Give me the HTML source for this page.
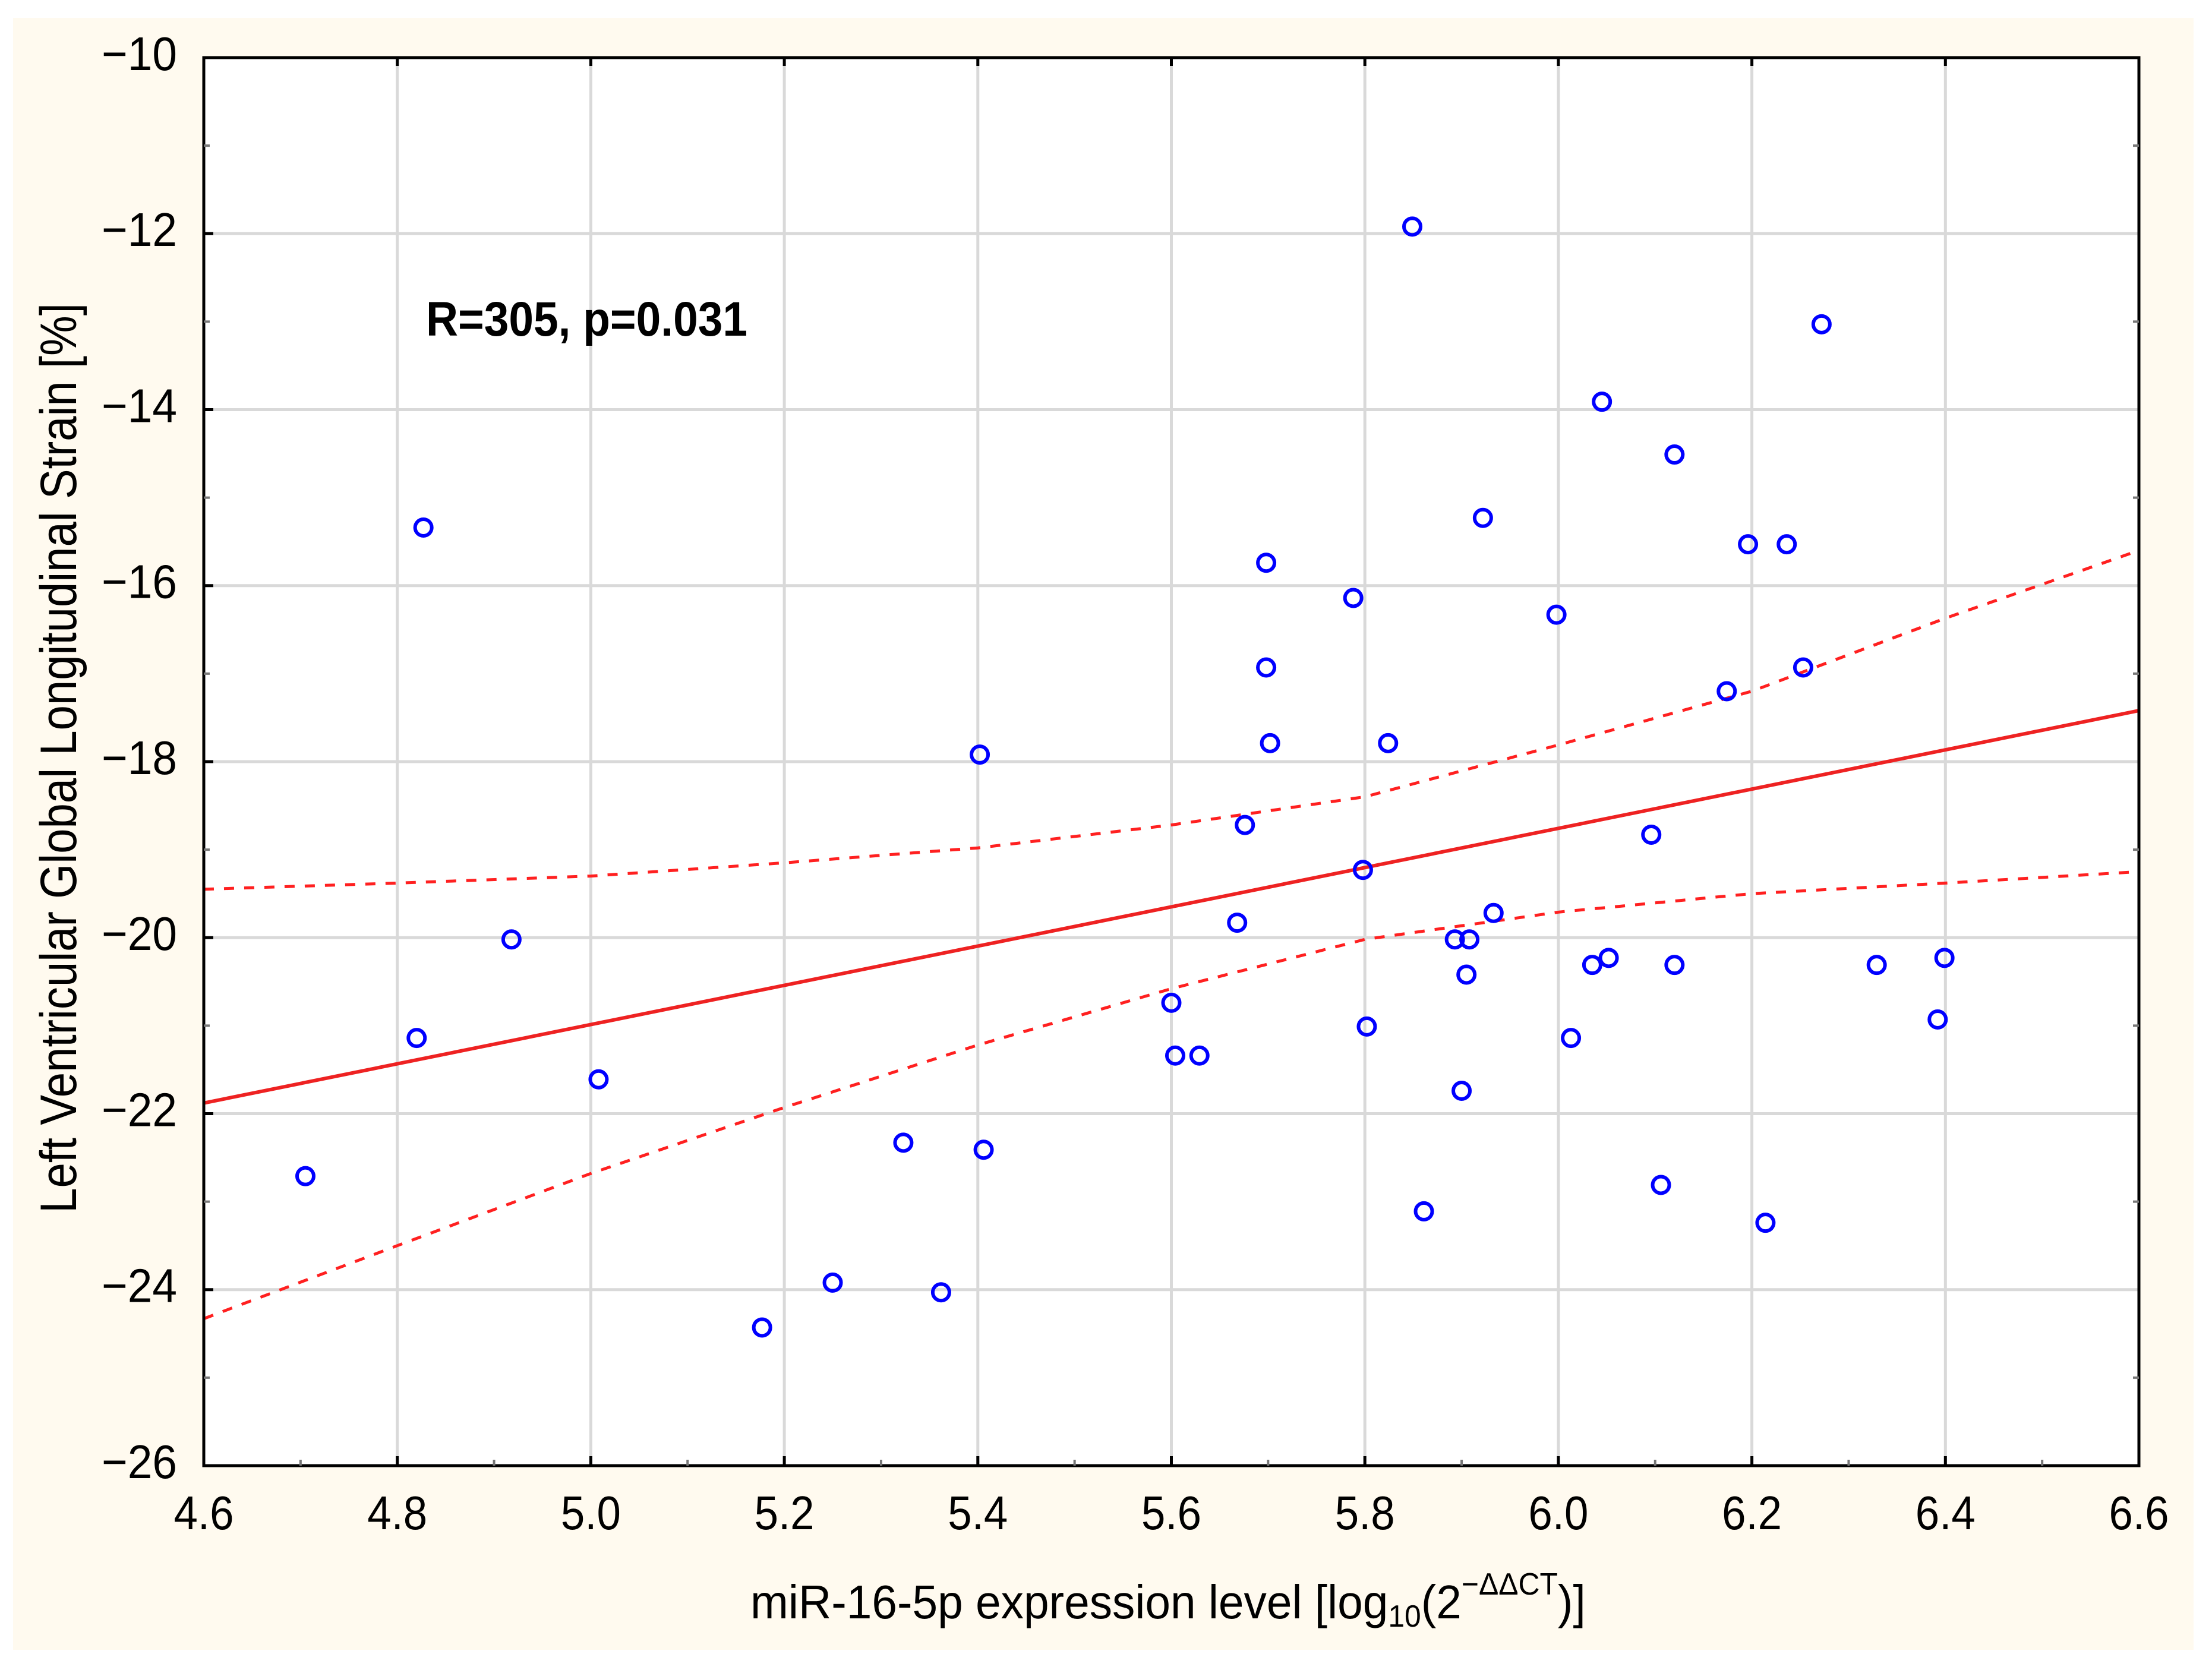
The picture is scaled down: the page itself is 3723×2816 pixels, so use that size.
<!DOCTYPE html>
<html><head><meta charset="utf-8">
<style>
html,body{margin:0;padding:0;background:#fff;}
svg{display:block;}
text{font-family:"Liberation Sans Narrow","Liberation Sans",sans-serif;fill:#000;}
</style></head>
<body>
<svg id="chart" width="3723" height="2816" viewBox="0 0 3723 2816" xmlns="http://www.w3.org/2000/svg">
<rect x="22" y="30" width="3670" height="2747" fill="#fffaef"/>
<rect x="343" y="97" width="3257" height="2370" fill="#ffffff"/>
<g id="grid"></g>
<g id="bands"></g>
<g id="points"></g>
<rect x="343" y="97" width="3257" height="2370" fill="none" stroke="#000" stroke-width="5"/>
<g id="ticks"></g>
<text id="annot" x="717" y="565" font-size="82" font-weight="bold">R=305, p=0.031</text>
<text id="ytitle" font-size="86" font-family="Liberation Sans, sans-serif" transform="translate(128,1276) rotate(-90)" text-anchor="middle">Left Ventricular Global Longitudinal Strain [%]</text>
<text id="xtitle" x="1263" y="2724" font-size="80">miR-16-5p expression level [log<tspan font-size="52" dy="14">10</tspan><tspan dy="-14">(2</tspan><tspan font-size="52" dy="-40">−ΔΔCT</tspan><tspan dy="40">)]</tspan></text>
</svg>
<script>
const xVals=[4.705,4.827,4.820,4.918,5.008,5.177,5.250,5.323,5.362,5.402,5.406,5.600,5.604,5.629,5.668,5.676,5.698,5.698,5.702,5.788,5.798,5.802,5.824,5.849,5.861,5.893,5.908,5.905,5.900,5.922,5.933,5.998,6.013,6.035,6.045,6.052,6.096,6.106,6.120,6.120,6.174,6.196,6.214,6.236,6.253,6.272,6.329,6.392,6.399];
const yVals=[-22.71,-15.34,-21.14,-20.02,-21.61,-24.43,-23.92,-22.33,-24.03,-17.92,-22.41,-20.74,-21.34,-21.34,-19.83,-18.72,-15.74,-16.93,-17.79,-16.14,-19.23,-21.01,-17.79,-11.92,-23.11,-20.02,-20.02,-20.42,-21.74,-15.23,-19.72,-16.33,-21.14,-20.31,-13.91,-20.23,-18.83,-22.81,-14.51,-20.31,-17.20,-15.53,-23.24,-15.53,-16.93,-13.03,-20.31,-20.93,-20.23];
const fitX=[4.6,6.6];
const fitY=[-21.88,-17.42];
const bandX=[4.6,4.8,5.0,5.2,5.4,5.6,5.8,6.0,6.2,6.4,6.6];
const upperY=[-19.45,-19.38,-19.30,-19.15,-18.98,-18.72,-18.40,-17.81,-17.20,-16.37,-15.60];
const lowerY=[-24.33,-23.50,-22.68,-21.93,-21.22,-20.58,-20.02,-19.71,-19.50,-19.38,-19.25];
const xTicks=[4.6,4.8,5.0,5.2,5.4,5.6,5.8,6.0,6.2,6.4,6.6];
const xTickLabels=["4.6","4.8","5.0","5.2","5.4","5.6","5.8","6.0","6.2","6.4","6.6"];
const yTicks=[-10,-12,-14,-16,-18,-20,-22,-24,-26];
const yTickLabels=["−10","−12","−14","−16","−18","−20","−22","−24","−26"];

const L=343,R=3600,T=97,B=2467,X0=4.6,X1=6.6,Y0=-26,Y1=-10;
const sx=v=>L+(v-X0)/(X1-X0)*(R-L);
const sy=v=>B-(v-Y0)/(Y1-Y0)*(B-T);
const NS="http://www.w3.org/2000/svg";
function mk(tag,attrs,parent){const e=document.createElementNS(NS,tag);for(const k in attrs)e.setAttribute(k,attrs[k]);parent.appendChild(e);return e;}
const grid=document.getElementById('grid'),ticks=document.getElementById('ticks'),bands=document.getElementById('bands'),pts=document.getElementById('points');

xTicks.forEach((v,i)=>{
  const x=sx(v);
  if(i>0&&i<xTicks.length-1){const g=mk('line',{x1:x,x2:x,y1:T,y2:B,stroke:'#d9d9d9','stroke-width':5},grid);
  
  }
  const tk=mk('line',{x1:x,x2:x,y1:B,y2:B-16,stroke:'#000','stroke-width':5},ticks);
  
  
  const tk2=mk('line',{x1:x,x2:x,y1:T,y2:T+14,stroke:'#000','stroke-width':5},ticks);
  
  
  if(i<xTicks.length-1){const mx=sx(v+0.1);
    const m=mk('line',{x1:mx,x2:mx,y1:B,y2:B-10,stroke:'#777','stroke-width':4},ticks);
    
    }
  const t=mk('text',{x:x,y:2574,'font-size':80,'text-anchor':'middle'},ticks);
  
  
  t.textContent=xTickLabels[i];
});
yTicks.forEach((v,i)=>{
  const y=sy(v);
  if(i>0&&i<yTicks.length-1){const g=mk('line',{x1:L,x2:R,y1:y,y2:y,stroke:'#d9d9d9','stroke-width':5},grid);
  
  }
  const tk=mk('line',{x1:L,x2:L+16,y1:y,y2:y,stroke:'#000','stroke-width':5},ticks);
  
  
  if(i<yTicks.length-1){const my=sy(v-1);
    const m=mk('line',{x1:L,x2:L+10,y1:my,y2:my,stroke:'#777','stroke-width':4},ticks);
    
    
    const m2=mk('line',{x1:R,x2:R-10,y1:my,y2:my,stroke:'#777','stroke-width':4},ticks);
    
    }
  const t=mk('text',{x:298,y:y+21,'font-size':80,'text-anchor':'end'},ticks);
  
  
  t.textContent=yTickLabels[i];
});

function pathOf(xs,ys){return xs.map((v,i)=>(i?'L':'M')+sx(v).toFixed(1)+' '+sy(ys[i]).toFixed(1)).join(' ');}
const up=mk('path',{d:pathOf(bandX,upperY),fill:'none',stroke:'#ff2020','stroke-width':5,'stroke-dasharray':'17 17'},bands);


const lo=mk('path',{d:pathOf(bandX,lowerY),fill:'none',stroke:'#ff2020','stroke-width':5,'stroke-dasharray':'17 17'},bands);


const fl=mk('path',{d:pathOf(fitX,fitY),fill:'none',stroke:'#ee2222','stroke-width':6},bands);



xVals.forEach((v,i)=>{
  const c=mk('circle',{cx:sx(v),cy:sy(yVals[i]),r:14,fill:'none',stroke:'#0000ff','stroke-width':6},pts);
  
  
});

function fit(id,x0,x1){
  const el=document.getElementById(id);const bb=el.getBBox();const s=(x1-x0)/bb.width;
  const cur=el.getAttribute('transform')||'';
  el.setAttribute('transform',`translate(${x0},0) scale(${s},1) translate(${-bb.x},0) ${cur}`);
}
fit('annot',717,1258);
fit('xtitle',1263,2669);
(function(){const el=document.getElementById('ytitle');const w=el.getBBox().width;const s=1532/w;
el.setAttribute('transform',`translate(128,1276) rotate(-90) scale(${s},1)`);})();
document.querySelectorAll('#ticks text').forEach(t=>{
  const bb=t.getBBox();const isY=t.getAttribute('text-anchor')==='end';
  const target=isY?127:101;const s=target/bb.width;
  const ax=isY?bb.x+bb.width:bb.x+bb.width/2;
  t.setAttribute('transform',`translate(${ax},0) scale(${s},1) translate(${-ax},0)`);
});
</script>
</body></html>
